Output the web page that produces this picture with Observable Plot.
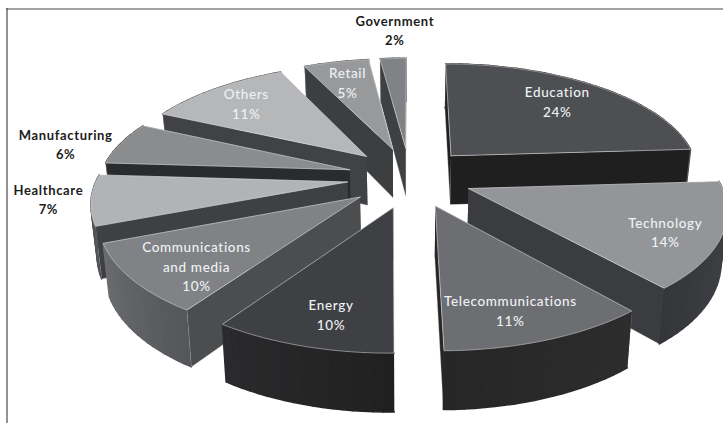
<!DOCTYPE html>
<html>
<head>
<meta charset="utf-8">
<script src="https://cdn.jsdelivr.net/npm/d3@7"></script>
<script src="https://cdn.jsdelivr.net/npm/@observablehq/plot@0.6"></script>
<style>
  html, body { margin: 0; padding: 0; background: #fff; overflow: hidden; }
  svg { display: block; }
  #chart text { letter-spacing: 0.65px; }
</style>
</head>
<body>
<div id="chart"></div>
<script>
// Share of projects by sector, clockwise from twelve o'clock.
const sectors = ["Education", "Technology", "Telecommunications", "Energy",
  "Communications and media", "Healthcare", "Manufacturing", "Others", "Retail", "Government"];
const shares = [24, 14, 11, 10, 10, 7, 6, 11, 5, 2];

// Face shades for each sector.
const topShades = ["#4e4f53", "#939598", "#6d6e71", "#3f4043", "#808285", "#b1b3b6", "#8a8c8e", "#b5b7b9", "#97999b", "#808285"];
const radialShades = ["#1f1f20", "#3a3c3f", "#262627", "#232325", "#4b4d4f", "#3f4042", "#2a2b2c", "#414244", "#3c3e40", "#3f4042"];
const rimStartShades = ["#1c1c1d", "#45474a", "#2d2d2e", "#202021", "#55565a", "#55565a", "#2a2b2c", "#414244", "#3c3e40", "#3f4042"];
const rimEndShades = ["#1f1f20", "#34363a", "#262627", "#2b2b2d", "#6c6d70", "#3f4042", "#2a2b2c", "#414244", "#3c3e40", "#3f4042"];

// Label placement in pie units: distance from the slice apex and bearing in degrees.
const labelRadius = [0.75, 0.80, 0.79, 0.79, 0.775, 1.165, 1.226, 0.78, 0.755, 1.386];
const labelBearing = [40.8, 115.9, 162.2, 194.8, 227, 263, 281.7, 315, 343.4, 357.6];
const outsideLabels = ["Healthcare", "Manufacturing", "Government"];

// Tilted view of the pie: ground-plane units to page pixels.
const view = {cx: 409, cy: 176.7, a: 250, b: 112.2, k: 0.155, pullX: 0.25, pullY: 0.27, depth: 50, depthK: 0.12, baseScale: 0.98};
const rad = (deg) => (deg * Math.PI) / 180;
const projectTop = ([X, Y]) => {
  const w = 1 + view.k * Y;
  return [view.cx + (view.a * X) / w, view.cy - (view.b * Y) / w];
};
const projectBase = ([X, Y]) => {
  const [sx, sy] = projectTop([X, Y]);
  return [view.cx + (sx - view.cx) * view.baseScale, sy + view.depth / (1 + view.depthK * Y)];
};
// The near side of the view swings the rim slightly clockwise.
const viewBearing = (a) => {
  const t = (a - 86) / 155;
  return t > 0 && t < 1 ? a + 3 * Math.sin(Math.PI * t) : a;
};

// Build the prism of every slice, back faces first.
const total = d3.sum(shares);
let running = 0;
const slices = sectors.map((name, i) => {
  const a0 = (running / total) * 360;
  running += shares[i];
  const a1 = (running / total) * 360;
  const mid = (a0 + a1) / 2;
  const apex = [view.pullX * Math.sin(rad(mid)), view.pullY * Math.cos(rad(mid))];
  const rimAt = (a) => {
    const b = rad(viewBearing(a));
    return [apex[0] + Math.sin(b), apex[1] + Math.cos(b)];
  };
  return {name, i, a0, a1, mid, apex, rimAt, value: shares[i]};
}).sort((p, q) => projectTop(p.apex)[1] - projectTop(q.apex)[1]);

const vertices = [];
let faceId = 0;
function pushFace(points, fill, stroke, strokeOpacity, strokeWidth) {
  const face = faceId++;
  for (const [x, y] of points) vertices.push({x, y, face, fill, stroke, strokeOpacity, strokeWidth});
}
const quad = (p, q) => [projectTop(p), projectTop(q), projectBase(q), projectBase(p)];

for (const s of slices) {
  const walls = [];
  const wallMid = (pts) => d3.mean(pts, (d) => d[1]);
  walls.push({pts: quad(s.apex, s.rimAt(s.a0)), fill: radialShades[s.i], stroke: "#d8dadc", so: 0.45, sw: 0.7});
  walls.push({pts: quad(s.apex, s.rimAt(s.a1)), fill: radialShades[s.i], stroke: "#d8dadc", so: 0.45, sw: 0.7});
  const steps = Math.max(2, Math.ceil((s.a1 - s.a0) / 2));
  const mix = d3.interpolateRgb(rimStartShades[s.i], rimEndShades[s.i]);
  for (let j = 0; j < steps; ++j) {
    const u = s.a0 + ((s.a1 - s.a0) * j) / steps;
    const v = s.a0 + ((s.a1 - s.a0) * (j + 1)) / steps;
    const c = mix((j + 0.5) / steps);
    walls.push({pts: quad(s.rimAt(u), s.rimAt(v)), fill: c, stroke: c, so: 1, sw: 1.5});
  }
  walls.sort((p, q) => wallMid(p.pts) - wallMid(q.pts));
  for (const w of walls) pushFace(w.pts, w.fill, w.stroke, w.so, w.sw);
  const top = [projectTop(s.apex)];
  for (let j = 0; j <= steps * 2; ++j) top.push(projectTop(s.rimAt(s.a0 + ((s.a1 - s.a0) * j) / (steps * 2))));
  top.push(projectTop(s.apex));
  pushFace(top, topShades[s.i], "#e4e5e7", 0.7, 0.7);
}

// Text anchors follow the same projection as the slices.
const labels = slices.map((s) => {
  const r = labelRadius[s.i], b = rad(labelBearing[s.i]);
  const [x, y] = projectTop([s.apex[0] + r * Math.sin(b), s.apex[1] + r * Math.cos(b)]);
  return {x, y, name: s.name, text: `${s.name.replace(" and", "\nand")}\n${s.value}%`};
});
const isOutside = (d) => outsideLabels.includes(d.name);
const textStyle = {x: "x", y: "y", text: "text", fontFamily: "Lato", lineAnchor: "middle", textAnchor: "middle", lineHeight: 1.46};

const chart = Plot.plot({
  width: 723,
  height: 423,
  margin: 0,
  x: {type: "identity", axis: null},
  y: {type: "identity", axis: null},
  marks: [
    Plot.ruleY([8.5], {x1: 6, x2: 723, stroke: "#4a4a4a", strokeWidth: 1.2}),
    Plot.ruleX([6.5], {y1: 8, y2: 423, stroke: "#4a4a4a", strokeWidth: 1.2}),
    Plot.line(vertices, {
      x: "x", y: "y", z: "face",
      fill: (d) => d.fill,
      stroke: (d) => d.stroke,
      strokeOpacity: (d) => d.strokeOpacity,
      strokeWidth: (d) => d.strokeWidth,
      strokeLinejoin: "round",
      curve: "linear"
    }),
    Plot.text(labels.filter((d) => !isOutside(d)), {...textStyle, fill: "#eef2f6", fontSize: 13.5, fontWeight: 500}),
    Plot.text(labels.filter(isOutside), {...textStyle, fill: "#1c1c1c", fontSize: 13, fontWeight: 700})
  ]
});
chart.style.background = "transparent";
document.getElementById("chart").append(chart);
</script>
</body>
</html>
